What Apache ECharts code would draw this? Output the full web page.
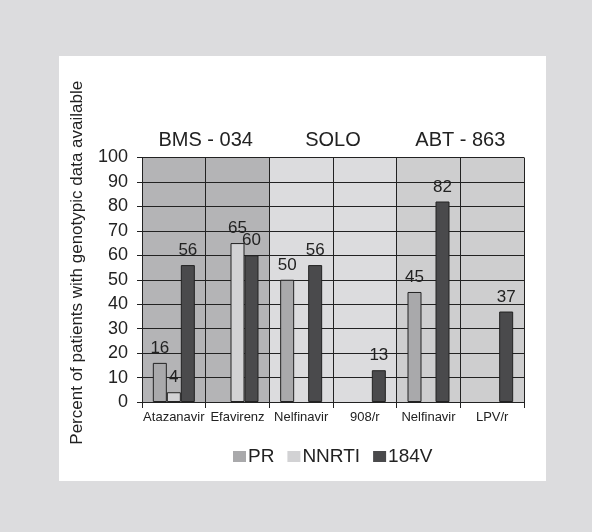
<!DOCTYPE html>
<html><head><meta charset="utf-8">
<script src="https://cdn.jsdelivr.net/npm/echarts@6/dist/echarts.min.js"></script>
<style>
html,body{margin:0;padding:0;background:#dcdcde;}
#panel{position:absolute;left:59px;top:56px;width:487px;height:425px;background:#fff;}
#c{position:absolute;left:0;top:0;width:592px;height:532px;}
</style></head>
<body>
<div id="panel"></div>
<div id="c"></div>
<script>
const categories = ['Atazanavir','Efavirenz','Nelfinavir','908/r','Nelfinavir','LPV/r'];
const studies = ['BMS - 034','SOLO','ABT - 863'];
const seriesNames = ['PR','NNRTI','184V'];
const prValues = [16, null, 50, null, 45, null];
const nnrtiValues = [4, 65, null, null, null, null];
const v184Values = [56, 60, 56, 13, 82, 37];
const yTicks = [0,10,20,30,40,50,60,70,80,90,100];

const colors = ['#a9a9ab','#d2d2d4','#4a4a4c'];
const font = 'Liberation Sans, Arial, sans-serif';

const chart = echarts.init(document.getElementById('c'), null, {renderer:'canvas'});
const values = [prValues, nnrtiValues, v184Values];
chart.setOption({
  backgroundColor: 'transparent',
  animation: false,
  grid: {left: 142, right: 68, top: 157.5, bottom: 130, containLabel: false},
  legend: {
    data: seriesNames, top: 442, left: 228, icon: 'rect',
    itemWidth: 13, itemHeight: 11, itemGap: 13,
    itemStyle: {borderWidth: 0},
    textStyle: {fontFamily: font, fontSize: 19, color: '#222', padding: [0,0,0,-3]}
  },
  xAxis: [{
    type: 'category', data: categories, position: 'bottom', z: 0,
    axisLine: {show: true, lineStyle: {color: '#222', width: 1}},
    axisTick: {show: true, interval: 0, length: 6, lineStyle: {color: '#222'}},
    axisLabel: {interval: 0, margin: 9, fontFamily: font, fontSize: 13, color: '#222'},
    splitLine: {show: true, interval: 0, lineStyle: {color: '#222', width: 1}},
    splitArea: {show: true, interval: 0, areaStyle: {color: ['#b4b4b6','#b4b4b6','#dcdcde','#dcdcde','#cececf','#cececf']}}
  },{
    type: 'category', data: studies, position: 'top',
    axisLine: {show: false}, axisTick: {show: false},
    axisLabel: {interval: 0, margin: 7, fontFamily: font, fontSize: 20, color: '#222'}
  }],
  yAxis: {
    type: 'value', min: yTicks[0], max: yTicks[yTicks.length-1], interval: 10, z: 1,
    name: 'Percent of patients with genotypic data available',
    nameLocation: 'middle', nameGap: 56, nameRotate: 90,
    nameTextStyle: {fontFamily: font, fontSize: 17, color: '#222', padding: [0,0,0,34]},
    axisLine: {show: true, lineStyle: {color: '#222'}},
    axisTick: {show: true, length: 5, lineStyle: {color: '#222'}},
    axisLabel: {margin: 14, fontFamily: font, fontSize: 18, color: '#222'},
    splitLine: {show: true, lineStyle: {color: '#222', width: 1}}
  },
  series: seriesNames.map((n, i) => ({
    name: n, type: 'bar', data: values[i], xAxisIndex: 0, z: 3,
    barWidth: 14, barGap: '0%',
    itemStyle: {color: colors[i], borderColor: '#222', borderWidth: 1},
    label: {show: true, position: 'top', distance: 6, fontFamily: font, fontSize: 17, color: '#222'}
  }))
});
</script>
</body></html>
